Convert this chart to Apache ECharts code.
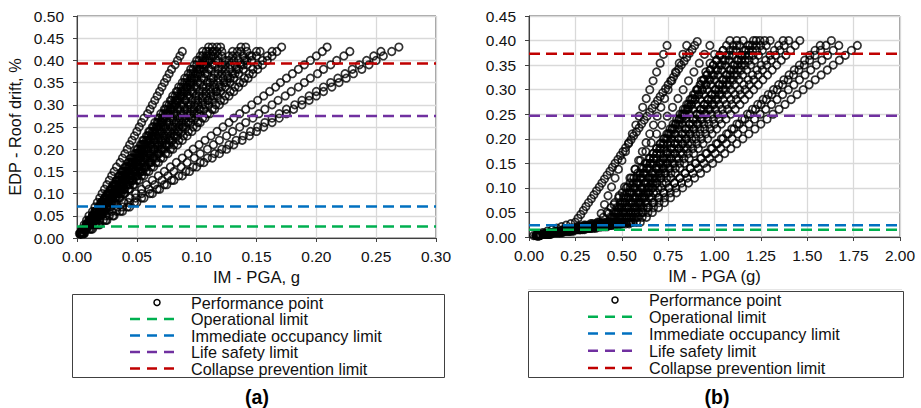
<!DOCTYPE html>
<html><head><meta charset="utf-8">
<script src="https://cdn.jsdelivr.net/npm/echarts@6/dist/echarts.min.js"></script>
<style>html,body{margin:0;padding:0;background:#fff}#c{width:921px;height:408px}</style>
</head><body><div id="c"></div>
<script>
// ---------- Panel (a) data ----------
const driftLevelsA = [0.01,0.02,0.03,0.04,0.05,0.06,0.07,0.08,0.09,0.10,0.11,0.12,0.13,0.14,0.15,0.16,0.17,0.18,0.19,0.20,0.21,0.22,0.23,0.24,0.25,0.26,0.27,0.28,0.29,0.30,0.31,0.32,0.33,0.34,0.35,0.36,0.37,0.38,0.39,0.40,0.41,0.42,0.43];
const pgaRaysA = [
 [0.002,0.004,0.006,0.008,0.010,0.013,0.015,0.017,0.019,0.021,0.023,0.025,0.027,0.029,0.031,0.033,0.036,0.038,0.040,0.042,0.044,0.046,0.048,0.050,0.052,0.054,0.056,0.059,0.061,0.063,0.065,0.067,0.069,0.071,0.073,0.075,0.077,0.079,0.082,0.084,0.086,0.088],
 [0.003,0.005,0.008,0.010,0.013,0.015,0.018,0.020,0.023,0.025,0.028,0.030,0.033,0.035,0.038,0.040,0.043,0.045,0.048,0.050,0.053,0.055,0.058,0.060,0.063,0.065,0.068,0.070,0.073,0.075,0.078,0.080,0.083,0.085,0.088,0.090,0.093,0.095,0.098,0.100,0.103,0.105],
 [0.003,0.005,0.008,0.010,0.013,0.015,0.018,0.020,0.023,0.026,0.028,0.031,0.033,0.036,0.038,0.041,0.044,0.046,0.049,0.051,0.054,0.056,0.059,0.061,0.064,0.067,0.069,0.072,0.074,0.077,0.079,0.082,0.084,0.087,0.090,0.092,0.095,0.097,0.100,0.102,0.105,0.108,0.110],
 [0.003,0.005,0.008,0.011,0.013,0.016,0.018,0.021,0.024,0.026,0.029,0.032,0.034,0.037,0.039,0.042,0.045,0.047,0.050,0.053,0.055,0.058,0.060,0.063,0.066,0.068,0.071,0.074,0.076,0.079,0.082,0.084,0.087,0.089,0.092,0.095,0.097,0.100,0.103,0.105,0.108,0.110,0.113],
 [0.003,0.005,0.008,0.011,0.013,0.016,0.019,0.021,0.024,0.027,0.029,0.032,0.035,0.038,0.040,0.043,0.046,0.048,0.051,0.054,0.056,0.059,0.062,0.064,0.067,0.070,0.072,0.075,0.078,0.080,0.083,0.086,0.088,0.091,0.094,0.096,0.099,0.102,0.105,0.107,0.110,0.113],
 [0.003,0.005,0.008,0.011,0.014,0.016,0.019,0.022,0.024,0.027,0.030,0.033,0.035,0.038,0.041,0.044,0.046,0.049,0.052,0.054,0.057,0.060,0.063,0.065,0.068,0.071,0.073,0.076,0.079,0.082,0.084,0.087,0.090,0.092,0.095,0.098,0.101,0.103,0.106,0.109,0.112,0.114,0.117],
 [0.003,0.006,0.008,0.011,0.014,0.017,0.019,0.022,0.025,0.028,0.031,0.033,0.036,0.039,0.042,0.044,0.047,0.050,0.053,0.056,0.058,0.061,0.064,0.067,0.070,0.072,0.075,0.078,0.081,0.083,0.086,0.089,0.092,0.095,0.097,0.100,0.103,0.106,0.108,0.111,0.114,0.117,0.120],
 [0.003,0.006,0.009,0.012,0.014,0.017,0.020,0.023,0.026,0.029,0.032,0.035,0.038,0.040,0.043,0.046,0.049,0.052,0.055,0.058,0.061,0.064,0.066,0.069,0.072,0.075,0.078,0.081,0.084,0.087,0.090,0.092,0.095,0.098,0.101,0.104,0.107,0.110,0.113,0.116,0.118,0.121],
 [0.003,0.006,0.009,0.012,0.015,0.018,0.021,0.024,0.027,0.030,0.032,0.035,0.038,0.041,0.044,0.047,0.050,0.053,0.056,0.059,0.062,0.065,0.068,0.071,0.074,0.077,0.080,0.083,0.086,0.089,0.091,0.094,0.097,0.100,0.103,0.106,0.109,0.112,0.115,0.118,0.121],
 [0.003,0.006,0.009,0.012,0.016,0.019,0.022,0.025,0.028,0.031,0.034,0.037,0.040,0.043,0.047,0.050,0.053,0.056,0.059,0.062,0.065,0.068,0.071,0.074,0.078,0.081,0.084,0.087,0.090,0.093,0.096,0.099,0.102,0.105,0.109,0.112,0.115,0.118,0.121,0.124,0.127,0.130],
 [0.003,0.006,0.010,0.013,0.016,0.019,0.022,0.025,0.029,0.032,0.035,0.038,0.041,0.045,0.048,0.051,0.054,0.057,0.060,0.064,0.067,0.070,0.073,0.076,0.080,0.083,0.086,0.089,0.092,0.095,0.099,0.102,0.105,0.108,0.111,0.114,0.118,0.121,0.124,0.127,0.130,0.134,0.137],
 [0.003,0.007,0.010,0.013,0.016,0.020,0.023,0.026,0.029,0.033,0.036,0.039,0.043,0.046,0.049,0.052,0.056,0.059,0.062,0.065,0.069,0.072,0.075,0.078,0.082,0.085,0.088,0.092,0.095,0.098,0.101,0.105,0.108,0.111,0.114,0.118,0.121,0.124,0.128,0.131,0.134,0.137,0.141],
 [0.003,0.007,0.010,0.014,0.017,0.020,0.024,0.027,0.030,0.034,0.037,0.041,0.044,0.047,0.051,0.054,0.057,0.061,0.064,0.068,0.071,0.074,0.078,0.081,0.085,0.088,0.091,0.095,0.098,0.101,0.105,0.108,0.112,0.115,0.118,0.122,0.125,0.128,0.132,0.135,0.139,0.142],
 [0.004,0.007,0.011,0.014,0.018,0.021,0.025,0.028,0.032,0.035,0.039,0.042,0.046,0.049,0.053,0.056,0.060,0.063,0.067,0.070,0.074,0.077,0.081,0.084,0.088,0.091,0.095,0.098,0.102,0.105,0.109,0.112,0.116,0.119,0.123,0.126,0.130,0.133,0.137,0.140,0.144],
 [0.004,0.007,0.011,0.014,0.018,0.021,0.025,0.028,0.032,0.036,0.039,0.043,0.046,0.050,0.053,0.057,0.061,0.064,0.068,0.071,0.075,0.078,0.082,0.085,0.089,0.093,0.096,0.100,0.103,0.107,0.110,0.114,0.117,0.121,0.125,0.128,0.132,0.135,0.139,0.142,0.146,0.150],
 [0.004,0.007,0.011,0.015,0.018,0.022,0.026,0.029,0.033,0.037,0.040,0.044,0.047,0.051,0.055,0.058,0.062,0.066,0.069,0.073,0.077,0.080,0.084,0.088,0.091,0.095,0.099,0.102,0.106,0.110,0.113,0.117,0.120,0.124,0.128,0.131,0.135,0.139,0.142,0.146,0.150,0.153],
 [0.004,0.008,0.012,0.016,0.019,0.023,0.027,0.031,0.035,0.039,0.043,0.047,0.050,0.054,0.058,0.062,0.066,0.070,0.074,0.078,0.081,0.085,0.089,0.093,0.097,0.101,0.105,0.109,0.113,0.116,0.120,0.124,0.128,0.132,0.136,0.140,0.144,0.147,0.151,0.155,0.159,0.163],
 [0.004,0.008,0.012,0.016,0.020,0.024,0.028,0.032,0.036,0.040,0.044,0.048,0.052,0.056,0.060,0.064,0.068,0.072,0.076,0.080,0.084,0.088,0.092,0.096,0.100,0.103,0.107,0.111,0.115,0.119,0.123,0.127,0.131,0.135,0.139,0.143,0.147,0.151,0.155,0.159,0.163,0.167,0.171],
 [0.005,0.010,0.015,0.019,0.024,0.029,0.034,0.039,0.044,0.049,0.054,0.058,0.063,0.068,0.073,0.078,0.083,0.088,0.093,0.097,0.102,0.107,0.112,0.117,0.122,0.127,0.131,0.136,0.141,0.146,0.151,0.156,0.161,0.166,0.170,0.175,0.180,0.185,0.190,0.195,0.200,0.205,0.209],
 [0.005,0.011,0.016,0.022,0.027,0.033,0.038,0.043,0.049,0.054,0.060,0.065,0.071,0.076,0.081,0.087,0.092,0.098,0.103,0.109,0.114,0.119,0.125,0.130,0.136,0.141,0.147,0.152,0.157,0.163,0.168,0.174,0.179,0.185,0.190,0.195,0.201,0.206,0.212,0.217,0.223,0.228],
 [0.006,0.012,0.018,0.024,0.030,0.036,0.042,0.048,0.054,0.061,0.067,0.073,0.079,0.085,0.091,0.097,0.103,0.109,0.115,0.121,0.127,0.133,0.139,0.145,0.151,0.157,0.163,0.169,0.175,0.182,0.188,0.194,0.200,0.206,0.212,0.218,0.224,0.230,0.236,0.242,0.248,0.254],
 [0.006,0.013,0.019,0.025,0.031,0.038,0.044,0.050,0.056,0.063,0.069,0.075,0.081,0.088,0.094,0.100,0.106,0.113,0.119,0.125,0.131,0.138,0.144,0.150,0.156,0.163,0.169,0.175,0.181,0.188,0.194,0.200,0.206,0.213,0.219,0.225,0.231,0.238,0.244,0.250,0.256,0.263,0.269]
];
const limitsA = [0.026, 0.071, 0.275, 0.393];

// ---------- Panel (b) data ----------
const driftLevelsB = [0.003,0.006,0.009,0.012,0.015,0.018,0.021,0.024,0.027,0.030,0.04,0.05,0.06,0.07,0.08,0.09,0.10,0.11,0.12,0.13,0.14,0.15,0.16,0.17,0.18,0.19,0.20,0.21,0.22,0.23,0.24,0.25,0.26,0.27,0.28,0.29,0.30,0.31,0.32,0.33,0.34,0.35,0.36,0.37,0.38,0.39,0.40];
const pgaRaysB = [
 [0.038,0.076,0.114,0.152,0.190,0.228,0.266,0.304,0.342,0.380,0.401,0.421,0.442,0.462,0.483,0.503,0.524,0.544,0.565,0.586,0.606,0.627,0.647,0.668,0.688,0.709,0.730,0.750,0.771,0.791,0.812,0.832,0.853,0.873,0.894,0.915,0.935,0.956,0.976,0.997,1.017,1.038,1.058,1.079,1.100,1.120],
 [0.042,0.084,0.126,0.168,0.210,0.252,0.294,0.336,0.378,0.420,0.438,0.456,0.474,0.492,0.510,0.528,0.545,0.563,0.581,0.599,0.617,0.635,0.653,0.671,0.689,0.707,0.725,0.743,0.760,0.778,0.796,0.814,0.832,0.850,0.868,0.886,0.904,0.922,0.940,0.958,0.976,0.993,1.011,1.029,1.047,1.065,1.083],
 [0.043,0.086,0.129,0.172,0.215,0.258,0.301,0.344,0.387,0.430,0.449,0.467,0.486,0.505,0.523,0.542,0.561,0.579,0.598,0.616,0.635,0.654,0.672,0.691,0.710,0.728,0.747,0.766,0.784,0.803,0.822,0.840,0.859,0.877,0.896,0.915,0.933,0.952,0.971,0.989,1.008,1.027,1.045,1.064,1.083,1.101,1.120],
 [0.044,0.088,0.132,0.176,0.220,0.264,0.308,0.352,0.396,0.440,0.459,0.479,0.498,0.517,0.537,0.556,0.575,0.594,0.614,0.633,0.652,0.672,0.691,0.710,0.730,0.749,0.768,0.787,0.807,0.826,0.845,0.865,0.884,0.903,0.923,0.942,0.961,0.980,1.000,1.019,1.038,1.058,1.077,1.096,1.116,1.135,1.154],
 [0.045,0.090,0.135,0.180,0.225,0.270,0.315,0.360,0.405,0.450,0.467,0.484,0.501,0.518,0.535,0.552,0.569,0.586,0.603,0.620,0.637,0.654,0.671,0.688,0.705,0.722,0.740,0.757,0.774,0.791,0.808,0.825,0.842,0.859,0.876,0.893,0.910,0.927,0.944,0.961,0.978,0.995,1.012,1.029,1.046],
 [0.046,0.092,0.138,0.184,0.230,0.276,0.322,0.368,0.414,0.460,0.480,0.501,0.521,0.541,0.561,0.582,0.602,0.622,0.642,0.663,0.683,0.703,0.724,0.744,0.764,0.784,0.805,0.825,0.845,0.865,0.886,0.906,0.926,0.946,0.967,0.987,1.007,1.028,1.048,1.068,1.088,1.109,1.129,1.149,1.169,1.190,1.210],
 [0.047,0.094,0.141,0.188,0.235,0.282,0.329,0.376,0.423,0.470,0.490,0.509,0.529,0.549,0.569,0.588,0.608,0.628,0.647,0.667,0.687,0.707,0.726,0.746,0.766,0.786,0.805,0.825,0.845,0.864,0.884,0.904,0.924,0.943,0.963,0.983,1.002,1.022,1.042,1.062,1.081,1.101,1.121,1.140,1.160,1.180],
 [0.048,0.096,0.144,0.192,0.240,0.288,0.336,0.384,0.432,0.480,0.500,0.520,0.540,0.561,0.581,0.601,0.621,0.641,0.661,0.681,0.702,0.722,0.742,0.762,0.782,0.802,0.822,0.843,0.863,0.883,0.903,0.923,0.943,0.963,0.984,1.004,1.024,1.044,1.064,1.084,1.104,1.124,1.145,1.165,1.185,1.205,1.225],
 [0.049,0.098,0.147,0.196,0.245,0.294,0.343,0.392,0.441,0.490,0.511,0.532,0.553,0.574,0.595,0.616,0.638,0.659,0.680,0.701,0.722,0.743,0.764,0.785,0.806,0.827,0.848,0.869,0.891,0.912,0.933,0.954,0.975,0.996,1.017,1.038,1.059,1.080,1.101,1.122,1.143,1.165,1.186,1.207,1.228,1.249,1.270],
 [0.050,0.100,0.150,0.200,0.250,0.300,0.350,0.400,0.450,0.500,0.524,0.547,0.571,0.594,0.618,0.641,0.665,0.688,0.712,0.735,0.759,0.782,0.806,0.829,0.853,0.876,0.900,0.923,0.947,0.970,0.994,1.017,1.041,1.064,1.088,1.111,1.135,1.158,1.182,1.205,1.229,1.252,1.276,1.299,1.323,1.346,1.370],
 [0.051,0.102,0.153,0.204,0.255,0.306,0.357,0.408,0.459,0.510,0.530,0.550,0.570,0.589,0.609,0.629,0.649,0.669,0.689,0.709,0.728,0.748,0.768,0.788,0.808,0.828,0.848,0.867,0.887,0.907,0.927,0.947,0.967,0.987,1.007,1.026,1.046,1.066,1.086,1.106,1.126,1.146,1.165,1.185,1.205,1.225,1.245],
 [0.052,0.104,0.156,0.208,0.260,0.312,0.364,0.416,0.468,0.520,0.541,0.562,0.583,0.604,0.625,0.646,0.668,0.689,0.710,0.731,0.752,0.773,0.794,0.815,0.836,0.857,0.878,0.899,0.921,0.942,0.963,0.984,1.005,1.026,1.047,1.068,1.089,1.110,1.131,1.152,1.173,1.195,1.216,1.237,1.258,1.279,1.300],
 [0.053,0.106,0.159,0.212,0.265,0.318,0.371,0.424,0.477,0.530,0.554,0.577,0.601,0.624,0.648,0.671,0.695,0.718,0.742,0.765,0.789,0.812,0.836,0.859,0.883,0.906,0.930,0.953,0.977,1.000,1.024,1.047,1.071,1.094,1.118,1.141,1.165,1.188,1.212,1.235,1.259,1.282,1.306,1.329,1.353,1.376,1.400],
 [0.054,0.108,0.162,0.216,0.270,0.324,0.378,0.432,0.486,0.540,0.565,0.590,0.615,0.639,0.664,0.689,0.714,0.739,0.764,0.789,0.813,0.838,0.863,0.888,0.913,0.938,0.963,0.987,1.012,1.037,1.062,1.087,1.112,1.137,1.162,1.186,1.211,1.236,1.261,1.286,1.311,1.336,1.360,1.385,1.410,1.435,1.460],
 [0.055,0.110,0.165,0.220,0.275,0.330,0.385,0.440,0.495,0.550,0.579,0.608,0.638,0.667,0.696,0.725,0.754,0.784,0.813,0.842,0.871,0.900,0.929,0.959,0.988,1.017,1.046,1.075,1.105,1.134,1.163,1.192,1.221,1.251,1.280,1.309,1.338,1.367,1.397,1.426,1.455,1.484,1.513,1.542,1.572,1.601,1.630],
 [0.056,0.112,0.168,0.224,0.280,0.336,0.392,0.448,0.504,0.560,0.588,0.616,0.644,0.672,0.700,0.728,0.756,0.784,0.813,0.841,0.869,0.897,0.925,0.953,0.981,1.009,1.037,1.065,1.093,1.121,1.149,1.177,1.205,1.233,1.262,1.290,1.318,1.346,1.374,1.402,1.430,1.458,1.486,1.514,1.542,1.570],
 [0.058,0.116,0.174,0.232,0.290,0.348,0.406,0.464,0.522,0.580,0.610,0.641,0.671,0.701,0.731,0.762,0.792,0.822,0.853,0.883,0.913,0.943,0.974,1.004,1.034,1.064,1.095,1.125,1.155,1.186,1.216,1.246,1.276,1.307,1.337,1.367,1.398,1.428,1.458,1.488,1.519,1.549,1.579,1.610,1.640,1.670],
 [0.060,0.120,0.180,0.240,0.300,0.360,0.420,0.480,0.540,0.600,0.633,0.665,0.698,0.730,0.763,0.795,0.828,0.860,0.893,0.925,0.958,0.990,1.023,1.055,1.088,1.120,1.153,1.185,1.218,1.250,1.283,1.315,1.348,1.380,1.413,1.445,1.478,1.510,1.543,1.575,1.608,1.640,1.673,1.705,1.738,1.770]
];
// finely sampled record (dense chain of points)
const driftLevelsBFine = [0.003,0.006,0.009,0.012,0.015,0.018,0.021,0.024,0.027,0.030,0.038,0.046,0.054,0.062,0.070,0.078,0.086,0.094,0.102,0.110,0.118,0.126,0.134,0.142,0.150,0.158,0.166,0.174,0.182,0.190,0.198,0.206,0.214,0.222,0.230,0.238,0.246,0.254,0.262,0.270,0.278,0.286,0.294,0.302,0.310,0.318,0.326,0.334,0.342,0.350,0.358,0.366,0.374,0.382,0.390,0.398];
const pgaRaysBFine = [
 [0.025,0.050,0.075,0.100,0.125,0.150,0.175,0.200,0.225,0.250,0.264,0.279,0.293,0.307,0.321,0.336,0.350,0.364,0.379,0.393,0.407,0.421,0.436,0.450,0.464,0.479,0.493,0.507,0.521,0.536,0.550,0.564,0.579,0.593,0.607,0.621,0.636,0.650,0.664,0.679,0.693,0.707,0.721,0.736,0.750,0.764,0.779,0.793,0.807,0.821,0.836,0.850,0.864,0.879,0.893,0.907]
];
// coarsely sampled records (widely spaced points)
const driftLevelsBCoarse = [0.003,0.006,0.009,0.012,0.015,0.018,0.021,0.024,0.027,0.030,0.048,0.066,0.084,0.102,0.120,0.138,0.156,0.174,0.192,0.210,0.228,0.246,0.264,0.282,0.300,0.318,0.336,0.354,0.372,0.390];
const pgaRaysBCoarse = [
 [0.037,0.074,0.111,0.148,0.185,0.222,0.259,0.296,0.333,0.370,0.389,0.407,0.426,0.445,0.464,0.482,0.501,0.520,0.538,0.557,0.576,0.594,0.613,0.632,0.651,0.669,0.688,0.707,0.725,0.744],
 [0.040,0.080,0.120,0.160,0.200,0.240,0.280,0.320,0.360,0.400,0.429,0.458,0.486,0.515,0.544,0.573,0.601,0.630,0.659,0.688,0.716,0.745,0.774,0.803,0.831,0.860,0.889,0.918,0.946,0.975],
 [0.045,0.090,0.135,0.180,0.225,0.270,0.315,0.360,0.405,0.450,0.472,0.492,0.512,0.532,0.551,0.571,0.591,0.611,0.631,0.651,0.671,0.691,0.711,0.731,0.750,0.770,0.790,0.810,0.830,0.850],
 [0.055,0.110,0.165,0.220,0.275,0.330,0.385,0.440,0.495,0.550,0.574,0.597,0.621,0.645,0.668,0.692,0.716,0.739,0.763,0.787,0.810,0.834,0.858,0.882,0.905,0.929,0.953,0.976,1.000]
];
const limitsB = [0.015, 0.024, 0.247, 0.373];

// ---------- shared labels / axes ----------
const limitNames = ['Operational limit', 'Immediate occupancy limit', 'Life safety limit', 'Collapse prevention limit'];
const pointName = 'Performance point';
const axisRangeA = {x: [0, 0.30, 0.05], y: [0, 0.50, 0.05]};
const axisRangeB = {x: [0, 2.00, 0.25], y: [0, 0.45, 0.05]};
const axisTitles = {xA: 'IM - PGA, g', yA: 'EDP - Roof drift, %', xB: 'IM - PGA (g)'};
const panelLabels = ['(a)', '(b)'];

// ---------- styles ----------
const limitColors = ['#00b050', '#0070c0', '#7030a0', '#c00000'];
const FONT = 'Liberation Sans, Arial, Helvetica, sans-serif';
const txtColor = '#111';

function pairs(rays, levels) {
  const out = [];
  rays.forEach(r => r.forEach((x, i) => out.push([x, levels[i]])));
  return out;
}
const dataA = pairs(pgaRaysA, driftLevelsA);
const dataB = pairs(pgaRaysB, driftLevelsB)
  .concat(pairs(pgaRaysBFine, driftLevelsBFine))
  .concat(pairs(pgaRaysBCoarse, driftLevelsBCoarse));

function xAxisCfg(idx, range, name, gap) {
  return {
    type: 'value', gridIndex: idx, min: range[0], max: range[1], interval: range[2],
    name: name, nameLocation: 'middle', nameGap: gap,
    nameTextStyle: {fontFamily: FONT, fontSize: 16.7, color: txtColor},
    axisLine: {show: true, lineStyle: {color: '#404040', width: 1}},
    axisTick: {show: true, length: 4, lineStyle: {color: '#404040'}},
    axisLabel: {fontFamily: FONT, fontSize: 15.5, color: txtColor, margin: 10, formatter: v => v.toFixed(2)},
    splitLine: {show: true, lineStyle: {color: '#d9d9d9', width: 1.3}}
  };
}
function yAxisCfg(idx, range, name) {
  return {
    type: 'value', gridIndex: idx, min: range[0], max: range[1], interval: range[2],
    name: name, nameLocation: 'middle', nameGap: 54,
    nameTextStyle: {fontFamily: FONT, fontSize: 16.3, color: txtColor},
    axisLine: {show: true, lineStyle: {color: '#404040', width: 1}},
    axisTick: {show: true, length: 4, lineStyle: {color: '#404040'}},
    axisLabel: {fontFamily: FONT, fontSize: 15.5, color: txtColor, margin: 13, formatter: v => v.toFixed(2)},
    splitLine: {show: true, lineStyle: {color: '#d9d9d9', width: 1.3}}
  };
}

const series = [];
[[dataA, 0], [dataB, 1]].forEach(([d, gi]) => {
  series.push({
    name: pointName, type: 'scatter', xAxisIndex: gi, yAxisIndex: gi, data: d,
    symbol: 'circle', symbolSize: 7.5, silent: true, z: 2,
    itemStyle: {color: 'rgba(0,0,0,0)', borderColor: '#000', borderWidth: 1.7}
  });
});
[[limitsA, axisRangeA, 0], [limitsB, axisRangeB, 1]].forEach(([lims, rng, gi]) => {
  lims.forEach((v, k) => {
    series.push({
      name: limitNames[k], type: 'line', xAxisIndex: gi, yAxisIndex: gi,
      data: [[rng.x[0], v], [rng.x[1], v]], symbol: 'none', silent: true, z: 3,
      lineStyle: {color: limitColors[k], width: 2.5, type: [11, 6]}
    });
  });
});

function legendGraphic(box, lineX1, lineX2, circleX, textX, rowYs) {
  const ts = {fontFamily: FONT, fontSize: 16.2, lineHeight: 14, fill: txtColor, verticalAlign: 'middle', align: 'left'};
  const els = [{
    type: 'rect', shape: {x: box[0] + 0.5, y: box[1] + 0.5, width: box[2], height: box[3]},
    style: {fill: '#fff', stroke: '#404040', lineWidth: 1}, z: 10
  }];
  els.push({type: 'circle', shape: {cx: circleX, cy: rowYs[0], r: 3}, style: {fill: 'none', stroke: '#000', lineWidth: 1.5}, z: 11});
  els.push({type: 'text', x: textX, y: rowYs[0], style: Object.assign({text: pointName}, ts), z: 11});
  limitNames.forEach((nm, k) => {
    els.push({type: 'line', shape: {x1: lineX1, y1: rowYs[k + 1], x2: lineX2, y2: rowYs[k + 1]},
      style: {stroke: limitColors[k], lineWidth: 2.5, lineDash: [10, 7]}, z: 11});
    els.push({type: 'text', x: textX, y: rowYs[k + 1], style: Object.assign({text: nm}, ts), z: 11});
  });
  return els;
}

const graphic = []
  .concat(legendGraphic([72, 294, 372, 83], 130, 176, 157, 191, [302.5, 319, 335.5, 352, 368.5]))
  .concat(legendGraphic([528, 291, 375, 86], 588, 634, 615, 649, [300, 316.8, 333.6, 350.8, 368]))
  .concat([
    {type: 'line', shape: {x1: 528, y1: 289.5, x2: 902, y2: 289.5}, style: {stroke: '#e6e6e6', lineWidth: 1}, z: 9},
    {type: 'text', x: 257, y: 397, style: {text: panelLabels[0], fontFamily: FONT, fontSize: 19.5, fontWeight: 'bold', fill: '#000', align: 'center', verticalAlign: 'middle'}, z: 11},
    {type: 'text', x: 717, y: 397, style: {text: panelLabels[1], fontFamily: FONT, fontSize: 19.5, fontWeight: 'bold', fill: '#000', align: 'center', verticalAlign: 'middle'}, z: 11}
  ]);

const chart = echarts.init(document.getElementById('c'), null, {renderer: 'svg'});
chart.setOption({
  animation: false,
  backgroundColor: '#fff',
  grid: [
    {left: 77, top: 16, width: 359, height: 222, show: true, borderColor: '#404040', borderWidth: 1, backgroundColor: 'transparent'},
    {left: 529, top: 16, width: 371, height: 221, show: true, borderColor: '#404040', borderWidth: 1, backgroundColor: 'transparent'}
  ],
  xAxis: [xAxisCfg(0, axisRangeA.x, axisTitles.xA, 28), xAxisCfg(1, axisRangeB.x, axisTitles.xB, 27)],
  yAxis: [yAxisCfg(0, axisRangeA.y, axisTitles.yA), yAxisCfg(1, axisRangeB.y, '')],
  series: series,
  graphic: graphic
});
</script>
</body></html>
